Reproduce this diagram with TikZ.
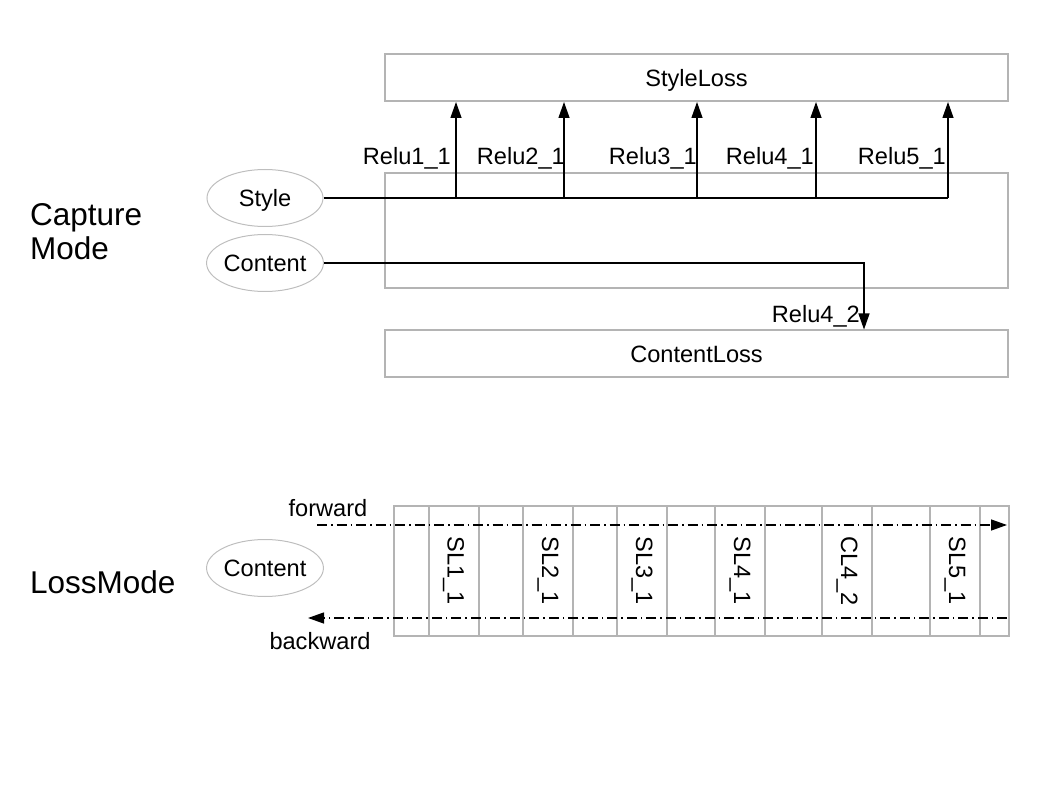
\documentclass[tikz,border=0pt]{standalone}
\usepackage{fontspec}
\setmainfont{Liberation Sans}
\usepackage{tikz}
\usetikzlibrary{shapes.geometric}
\usetikzlibrary{arrows.meta}
\usepackage{xcolor}
\definecolor{boxgray}{RGB}{180,180,180}
\definecolor{ringgray}{RGB}{190,190,190}
\tikzset{edge/.style = {-{Triangle[length=16pt,width=11pt]}, line width=1.3pt}}
\tikzset{flow/.style = {edge, dash pattern=on 10pt off 4pt on 1.5pt off 4pt}}
\tikzset{layer/.style = {draw=boxgray, line width=2pt, minimum width=623pt, minimum height=47pt, inner sep=0pt, text depth=0pt}}
\tikzset{blob/.style = {ellipse, draw=ringgray, line width=1pt, minimum width=116pt, minimum height=57pt, inner sep=0pt, text depth=0pt}}
\tikzset{cell/.style = {draw=boxgray, line width=2pt, rotate=-90, minimum width=130pt, minimum height=50pt, inner sep=0pt}}

\begin{document}
\begin{tikzpicture}[x=1pt, y=-1pt, font=\fontsize{23.6}{27}\selectfont]
		\useasboundingbox (0,0) rectangle (1058,794);
		%capture mode
		\node[anchor=west, align=left, inner sep=0pt, font=\fontsize{31.5}{34}\selectfont](CM) at (30,232){Capture\\Mode};
		\node[layer](SL) at (696.5,77.5){StyleLoss};
		\node[layer, minimum height=115pt](NET) at (696.5,230.5){};
		\node[layer](CL) at (696.5,354){ContentLoss};
		\node[blob](S) at (265,198){Style};
		\node[blob](C) at (265,263){Content};

		%draw style taps
		\coordinate (r5) at (948,198);
		\draw[line width=1.3pt] (S.east) -- (r5);
		\foreach \x/\lx/\n in {456/451/1, 564/565/2, 697/697/3, 816/814/4, 948/946/5}{
			\coordinate (r\n) at (\x,198);
			\draw[edge] (r\n) -- (r\n |- SL.south);
			\node[anchor=base east, inner sep=0pt](R\n) at (\lx,165){Relu\n\_1};
		}

		%content tap
		\coordinate (k) at (864,263);
		\draw[edge] (C.east) -| (k |- CL.north);
		\node[anchor=base east, inner sep=0pt](R42) at (860,323){Relu4\_2};

		%loss mode
		\node[anchor=west, inner sep=0pt, font=\fontsize{31.5}{34}\selectfont](LM) at (30,582){LossMode};
		\node[blob](C2) at (265,568){Content};
		\node[draw=boxgray, line width=2pt, minimum width=615pt, minimum height=130pt](NET2) at (701.5,571){};
		\foreach \x/\t [count=\i] in {453.5/SL1\_1, 548/SL2\_1, 642/SL3\_1, 740/SL4\_1, 847/CL4\_2, 955/SL5\_1}{
			\node[cell](L\i) at (\x,571){\t};
		}

		%forward and backward passes
		\coordinate (f0) at (317,525);
		\coordinate (f1) at (1007,525);
		\draw[flow] (f0) -- (f1);
		\node(FW) at (328,508){forward};
		\coordinate (b0) at (1007,618);
		\coordinate (b1) at (308,618);
		\draw[flow] (b0) -- (b1);
		\node(BW) at (320,641){backward};
\end{tikzpicture}
\end{document}
